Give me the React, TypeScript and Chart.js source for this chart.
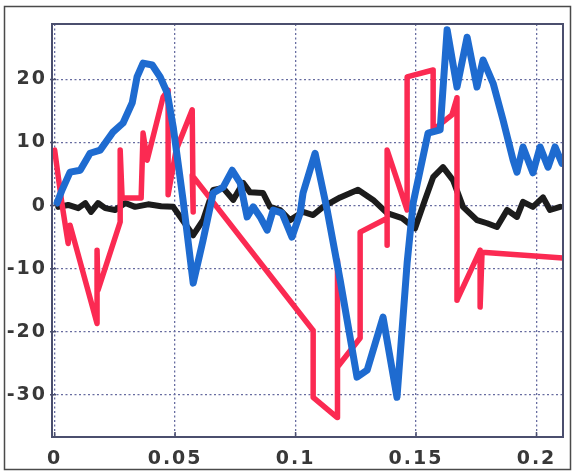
import React, { useEffect, useRef } from "react";
import { Chart, registerables } from "chart.js";

Chart.register(...registerables);

// ---- data ----
const redX = [0.0, 0.0031, 0.0056, 0.0064, 0.0176, 0.0176, 0.018, 0.0272, 0.0272, 0.028, 0.0359, 0.0367, 0.0384, 0.045, 0.0471, 0.0471, 0.0504, 0.0571, 0.0575, 0.0571, 0.1073, 0.1073, 0.1172, 0.1172, 0.1176, 0.1268, 0.1268, 0.138, 0.138, 0.138, 0.1463, 0.1463, 0.1571, 0.1571, 0.1649, 0.167, 0.167, 0.1766, 0.1766, 0.1774, 0.211];
const redY = [8.8, 0.1, -6.0, -3.1, -18.7, -7.1, -13.4, -2.6, 8.8, 1.2, 1.2, 11.5, 7.2, 17.2, 18.3, 1.7, 8.8, 15.2, -1.0, 4.8, -19.8, -30.4, -33.6, -8.7, -25.6, -21.0, -4.2, -2.0, -6.3, 8.8, -0.7, 20.4, 21.5, 12.0, 14.4, 17.1, -15.0, -7.1, -16.1, -7.4, -8.3];

const blueX = [0.001, 0.0031, 0.0064, 0.0106, 0.0147, 0.0189, 0.0243, 0.0284, 0.0322, 0.0342, 0.0367, 0.0405, 0.0438, 0.0467, 0.0492, 0.0533, 0.0575, 0.0616, 0.0658, 0.0699, 0.0737, 0.077, 0.0799, 0.0824, 0.0853, 0.0882, 0.0907, 0.0944, 0.0985, 0.1019, 0.1031, 0.1081, 0.1131, 0.1185, 0.1255, 0.1297, 0.1363, 0.1421, 0.1463, 0.1488, 0.155, 0.16, 0.1629, 0.167, 0.1712, 0.1753, 0.1778, 0.182, 0.1861, 0.1903, 0.1919, 0.1944, 0.1985, 0.2015, 0.2048, 0.2077, 0.2106];
const blueY = [0.4, 2.5, 5.3, 5.6, 8.3, 8.8, 11.7, 13.1, 16.3, 20.4, 22.6, 22.3, 20.4, 17.9, 12.5, 0.9, -12.3, -5.5, 2.0, 2.9, 5.6, 3.6, -1.8, -0.2, -1.8, -3.9, -0.7, -1.2, -5.0, -1.2, 2.0, 8.3, -0.7, -11.8, -27.2, -26.1, -17.7, -30.4, -9.1, 0.4, 11.5, 12.0, 27.9, 18.8, 26.7, 18.8, 23.1, 19.4, 13.6, 7.2, 5.3, 9.3, 5.2, 9.3, 6.1, 9.3, 6.7];

const blackX = [0.0015, 0.0056, 0.0098, 0.0127, 0.0151, 0.018, 0.021, 0.0251, 0.0293, 0.0334, 0.0388, 0.0442, 0.0492, 0.0575, 0.0616, 0.0658, 0.0699, 0.0741, 0.0782, 0.0811, 0.0865, 0.0894, 0.0936, 0.0977, 0.1031, 0.1073, 0.1114, 0.1185, 0.1259, 0.1322, 0.138, 0.1442, 0.1496, 0.1537, 0.1571, 0.1612, 0.1654, 0.1695, 0.1753, 0.1795, 0.1836, 0.1878, 0.1919, 0.1944, 0.1985, 0.2027, 0.2056, 0.2098];
const blackY = [-0.2, 0.1, -0.4, 0.4, -1.0, 0.4, -0.4, -0.7, 0.4, -0.2, 0.2, -0.1, -0.2, -4.7, -2.3, 2.5, 2.8, 0.9, 3.6, 2.1, 2.0, -0.2, -0.7, -2.3, -1.0, -1.5, -0.2, 1.3, 2.5, 0.9, -1.2, -2.0, -3.6, 0.9, 4.5, 6.1, 4.0, -0.2, -2.3, -2.8, -3.4, -0.7, -1.8, 0.6, -0.2, 1.3, -0.7, -0.2];

const xTickValues = [0, 0.05, 0.1, 0.15, 0.2];
const xTickLabels = ["0", "0.05", "0.1", "0.15", "0.2"];
const yTickValues = [-30, -20, -10, 0, 10, 20];
const yTickLabels = ["-30", "-20", "-10", "0", "10", "20"];

const toPoints = (xs: number[], ys: number[]) => xs.map((x, i) => ({ x, y: ys[i] }));

const W = 575;
const H = 474;

const framePlugin = {
  id: "frame",
  beforeDraw(chart: any) {
    const ctx = chart.ctx;
    ctx.save();
    ctx.fillStyle = "#ffffff";
    ctx.fillRect(0, 0, W, H);
    ctx.strokeStyle = "#4a4a4a";
    ctx.lineWidth = 1.5;
    ctx.strokeRect(4.5, 6.5, 566, 463);
    ctx.restore();
    try {
      (ctx as any).letterSpacing = "2px";
    } catch (e) {}
  },
  afterDraw(chart: any) {
    const ctx = chart.ctx;
    const { left, top, right, bottom } = chart.chartArea;
    const xs = chart.scales.x;
    const ys = chart.scales.y;
    ctx.save();
    ctx.strokeStyle = "#4b4f6e";
    ctx.lineWidth = 1.5;
    ctx.beginPath();
    xTickValues.forEach((v) => {
      const p = xs.getPixelForValue(v);
      ctx.moveTo(p, bottom);
      ctx.lineTo(p, bottom - 5);
    });
    yTickValues.forEach((v) => {
      const p = ys.getPixelForValue(v);
      ctx.moveTo(left - 2, p);
      ctx.lineTo(left + 4, p);
    });
    ctx.stroke();
    ctx.lineWidth = 2;
    ctx.strokeRect(left, top, right - left, bottom - top);
    ctx.restore();
  },
};

export default function App() {
  const ref = useRef<HTMLCanvasElement | null>(null);

  useEffect(() => {
    if (!ref.current) return;
    const tickFont = { family: "'DejaVu Sans', sans-serif", size: 19, weight: "bold" as const };
    const gridColor = "#676ca0";
    const chart = new Chart(ref.current, {
      type: "line",
      data: {
        datasets: [
          {
            label: "blue",
            data: toPoints(blueX, blueY),
            borderColor: "#1e6bd0",
            borderWidth: 7,
            order: 0,
          },
          {
            label: "red",
            data: toPoints(redX, redY),
            borderColor: "#fb2a52",
            borderWidth: 5.5,
            order: 1,
          },
          {
            label: "black",
            data: toPoints(blackX, blackY),
            borderColor: "#1c1c1c",
            borderWidth: 6,
            order: 2,
          },
        ].map((d) => ({
          ...d,
          pointRadius: 0,
          tension: 0,
          fill: false,
          borderJoinStyle: "round" as const,
          borderCapStyle: "round" as const,
        })),
      },
      options: {
        responsive: false,
        animation: false,
        devicePixelRatio: 1,
        layout: { padding: { top: 24, right: 12, left: 0, bottom: 0 } },
        plugins: { legend: { display: false }, tooltip: { enabled: false } },
        scales: {
          x: {
            type: "linear",
            min: -0.0011,
            max: 0.211,
            afterBuildTicks: (scale: any) => {
              scale.ticks = xTickValues.map((v) => ({ value: v }));
            },
            afterFit: (scale: any) => {
              scale.height = 37;
            },
            ticks: {
              font: tickFont,
              color: "#383838",
              padding: 11,
              maxRotation: 0,
              autoSkip: false,
              callback: (v: any) => {
                const i = xTickValues.findIndex((t) => Math.abs(t - Number(v)) < 1e-9);
                return i >= 0 ? xTickLabels[i] : "";
              },
            },
            grid: { color: gridColor, lineWidth: 1.3, drawTicks: false },
            border: { display: false, dash: [2, 2.5] },
          },
          y: {
            type: "linear",
            min: -36.7,
            max: 28.8,
            afterBuildTicks: (scale: any) => {
              scale.ticks = yTickValues.map((v) => ({ value: v }));
            },
            afterFit: (scale: any) => {
              scale.width = 52;
            },
            ticks: {
              font: tickFont,
              color: "#383838",
              padding: 5,
              autoSkip: false,
              callback: (v: any) => {
                const i = yTickValues.findIndex((t) => Math.abs(t - Number(v)) < 1e-9);
                return i >= 0 ? yTickLabels[i] : "";
              },
            },
            grid: { color: gridColor, lineWidth: 1.3, drawTicks: false },
            border: { display: false, dash: [2, 2.5] },
          },
        },
      },
      plugins: [framePlugin],
    });
    return () => chart.destroy();
  }, []);

  return (
    <div style={{ position: "absolute", left: 0, top: 0, width: W, height: H }}>
      <canvas ref={ref} width={W} height={H} style={{ display: "block", width: W, height: H }} />
    </div>
  );
}
